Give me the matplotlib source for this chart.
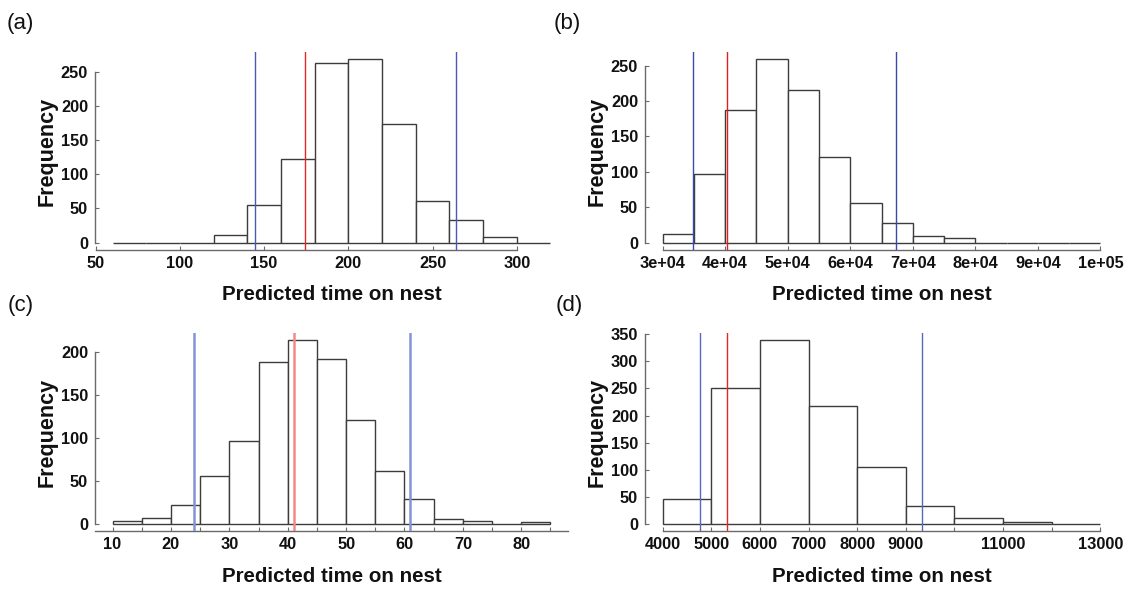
import matplotlib
matplotlib.use("Agg")
import matplotlib.pyplot as plt
from matplotlib import font_manager
import numpy as np

# ---------------- data ----------------
a_breaks = [60, 80, 100, 120, 140, 160, 180, 200, 220, 240, 260, 280, 300, 320]
a_counts = [0, 0, 0, 11, 55, 123, 263, 268, 173, 61, 33, 8, 0]
a_lines = [144.6, 174.0, 264.2]          # lower CI, point estimate, upper CI
a_xticks = [50, 100, 150, 200, 250, 300]
a_xticklabels = ["50", "100", "150", "200", "250", "300"]
a_yticks = [0, 50, 100, 150, 200, 250]

b_breaks = [30000, 35000, 40000, 45000, 50000, 55000, 60000, 65000, 70000,
            75000, 80000, 85000, 90000, 95000, 100000]
b_counts = [12, 97, 187, 259, 216, 121, 56, 28, 10, 7, 0, 0, 0, 0]
b_lines = [34850, 40230, 67300]
b_xticks = [30000, 40000, 50000, 60000, 70000, 80000, 90000, 100000]
b_xticklabels = ["3e+04", "4e+04", "5e+04", "6e+04", "7e+04", "8e+04", "9e+04", "1e+05"]
b_yticks = [0, 50, 100, 150, 200, 250]

c_breaks = [10, 15, 20, 25, 30, 35, 40, 45, 50, 55, 60, 65, 70, 75, 80, 85]
c_counts = [3, 7, 22, 56, 96, 189, 214, 192, 121, 61, 29, 6, 3, 0, 2]
c_lines = [23.9, 41.05, 60.95]
c_xticks = [10, 15, 20, 25, 30, 35, 40, 45, 50, 55, 60, 65, 70, 75, 80, 85]
c_xticklabels = ["10", "", "20", "", "30", "", "40", "", "50", "", "60", "", "70", "", "80", ""]
c_yticks = [0, 50, 100, 150, 200]

d_breaks = [4000, 5000, 6000, 7000, 8000, 9000, 10000, 11000, 12000, 13000]
d_counts = [46, 250, 339, 218, 105, 33, 11, 3, 0]
d_lines = [4780, 5315, 9330]
d_xticks = [4000, 5000, 6000, 7000, 8000, 9000, 10000, 11000, 12000, 13000]
d_xticklabels = ["4000", "5000", "6000", "7000", "8000", "9000", "", "11000", "", "13000"]
d_yticks = [0, 50, 100, 150, 200, 250, 300, 350]

panel_labels = ["(a)", "(b)", "(c)", "(d)"]
xlabel_text = "Predicted time on nest"
ylabel_text = "Frequency"

# ---------------- fonts ----------------
avail = {f.name for f in font_manager.fontManager.ttflist}
narrow_ok = "Liberation Sans Narrow" in avail
narrow = "Liberation Sans Narrow" if narrow_ok else "Liberation Sans"
plain = "Liberation Sans"
tick_fs = 13.5 if narrow_ok else 11.8
xlab_fs = 17 if narrow_ok else 14.8

W, H = 1124, 589
fig = plt.figure(figsize=(W / 100, H / 100), dpi=100)

# axes boxes in pixels: left, top, right, bottom
boxes = [(95, 52, 568, 250), (645, 52, 1118, 250),
         (95, 333, 568, 531), (645, 333, 1118, 531)]
label_pos = [(7, 24), (554, 24), (8, 305), (556, 305)]

panels = [
    (a_breaks, a_counts, a_lines, a_xticks, a_xticklabels, a_yticks, (50, 300)),
    (b_breaks, b_counts, b_lines, b_xticks, b_xticklabels, b_yticks, (30000, 100000)),
    (c_breaks, c_counts, c_lines, c_xticks, c_xticklabels, c_yticks, None),
    (d_breaks, d_counts, d_lines, d_xticks, d_xticklabels, d_yticks, (4000, 13000)),
]

line_styles = [
    dict(blue="#4a58b8", red="#e02828", lw=1.0),
    dict(blue="#3a48b0", red="#e02020", lw=1.0),
    dict(blue="#8494d4", red="#f08a8a", lw=1.8),
    dict(blue="#5866c0", red="#e02828", lw=1.0),
]

axis_color = "#6a6a6a"
bar_edge = "#3c3c3c"

for i, (breaks, counts, lines, xt, xtl, yt, xb) in enumerate(panels):
    l, t, r, b = boxes[i]
    ax = fig.add_axes([l / W, 1 - b / H, (r - l) / W, (b - t) / H])
    br = np.array(breaks, dtype=float)
    ct = np.array(counts, dtype=float)
    span = br[-1] - br[0]
    ax.set_xlim(br[0] - 0.04 * span, br[-1] + 0.04 * span)
    ymax = ct.max()
    ax.set_ylim(-0.04 * ymax, 1.04 * ymax)

    ax.bar(br[:-1], ct, width=np.diff(br), align="edge", facecolor="white",
           edgecolor=bar_edge, linewidth=1.0, zorder=2)

    st = line_styles[i]
    ax.axvline(lines[0], color=st["blue"], lw=st["lw"], zorder=3)
    ax.axvline(lines[1], color=st["red"], lw=st["lw"], zorder=3)
    ax.axvline(lines[2], color=st["blue"], lw=st["lw"], zorder=3)

    for s in ("top", "right"):
        ax.spines[s].set_visible(False)
    for s in ("left", "bottom"):
        ax.spines[s].set_color(axis_color)
        ax.spines[s].set_linewidth(1.0)
    ax.spines["left"].set_bounds(yt[0], yt[-1])
    if xb is not None:
        ax.spines["bottom"].set_bounds(xb[0], xb[1])

    ax.set_xticks(xt)
    ax.set_xticklabels(xtl)
    ax.set_yticks(yt)
    ax.set_yticklabels([str(v) for v in yt])
    ax.tick_params(direction="in", length=3, width=0.8, color=axis_color)
    ax.tick_params(axis="x", pad=4.5)
    ax.tick_params(axis="y", pad=5)
    for lab in ax.get_xticklabels() + ax.get_yticklabels():
        lab.set_fontfamily(narrow)
        lab.set_fontweight("bold")
        lab.set_fontsize(tick_fs)
        lab.set_color("#111111")

    ax.set_xlabel(xlabel_text, fontfamily=narrow, fontweight="bold",
                  fontsize=xlab_fs, va="center", color="#111111")
    ax.xaxis.set_label_coords(0.5, -45 / (b - t))
    ax.set_ylabel(ylabel_text, fontfamily=plain, fontweight="bold",
                  fontsize=15.5, va="center", color="#111111")
    ax.yaxis.set_label_coords(-48 / (r - l), 0.5)
    ax.patch.set_alpha(0)

    px, py = label_pos[i]
    fig.text(px / W, 1 - py / H, panel_labels[i], fontfamily=plain,
             fontsize=16, ha="left", va="center", color="#111111")

fig.savefig("out.png", dpi=100)
